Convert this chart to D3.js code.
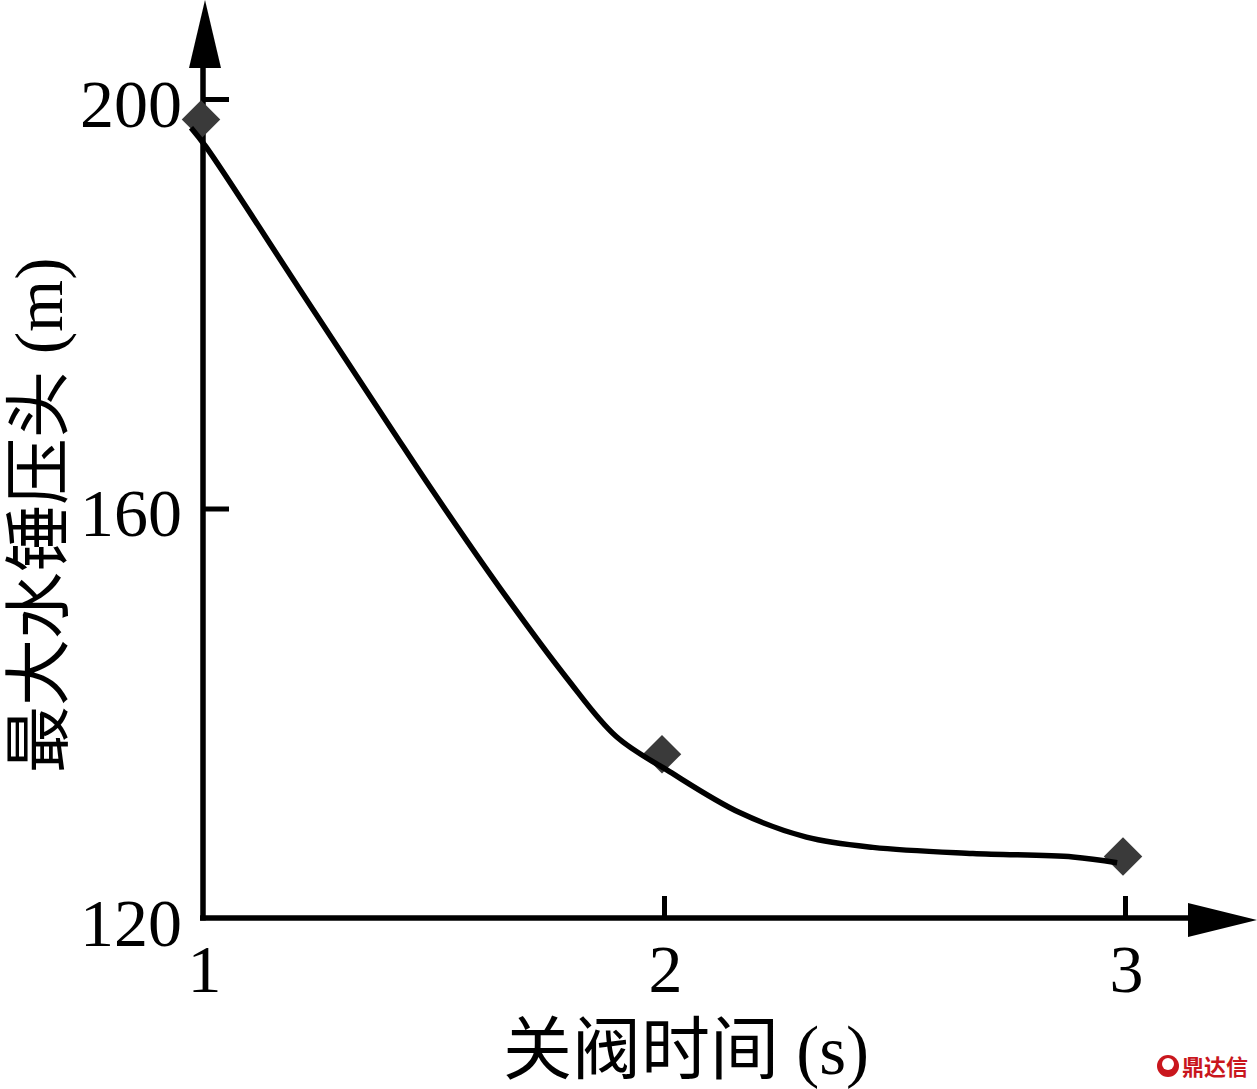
<!DOCTYPE html>
<html>
<head>
<meta charset="utf-8">
<script src="https://cdn.jsdelivr.net/npm/d3@7"></script>
<style>
  html, body { margin: 0; padding: 0; background: #fff; }
  svg { display: block; }
</style>
</head>
<body>
<script>
// ---- data ----
const closingTime = [1, 2, 3];                 // 关阀时间 (s)
const maxHead = [198, 136, 126];               // 最大水锤压头 (m)
// fitted curve
const curveX = [0.974, 1.007, 1.2085, 1.41, 1.497, 1.643, 1.788, 1.897, 2.012, 2.164, 2.309, 2.453, 2.67, 2.887, 2.983];
const curveY = [197.2, 195.3, 181.5, 167.7, 161.8, 152.3, 143.5, 137.7, 134.3, 130.3, 127.9, 126.9, 126.3, 125.96, 125.4];
const xTicks = [1, 2, 3];
const yTicks = [120, 160, 200];
const xTitle = "关阀时间 (s)";
const yTitle = "最大水锤压头 (m)";

const W = 1257, H = 1089;
const svg = d3.select("body").append("svg").attr("width", W).attr("height", H);

const x = d3.scaleLinear().domain([1, 3]).range([203, 1125]);
const y = d3.scaleLinear().domain([120, 200]).range([918, 99]);

const serif = "'Liberation Serif', 'Times New Roman', serif";
const cjk = "'Liberation Serif', 'Noto Sans CJK SC', serif";

// axes lines
svg.append("line").attr("x1", 203).attr("x2", 203).attr("y1", y(120) + 2.5).attr("y2", 66)
  .attr("stroke", "#000").attr("stroke-width", 5.5);
svg.append("line").attr("x1", 200).attr("x2", 1190).attr("y1", y(120)).attr("y2", y(120))
  .attr("stroke", "#000").attr("stroke-width", 5.5);
// arrows
svg.append("path").attr("d", "M189,68 L221,68 L205,0 Z").attr("fill", "#000");
svg.append("path").attr("d", "M1188,903 L1188,937 L1257,920 Z").attr("fill", "#000");

// y axis ticks/labels
const gy = svg.append("g").attr("transform", "translate(203,0)")
  .call(d3.axisLeft(y).tickValues(yTicks).tickFormat(d3.format("d"))
    .tickSizeInner(-26).tickSizeOuter(0).tickPadding(21));
gy.select(".domain").remove();
gy.selectAll(".tick line").attr("stroke", "#000").attr("stroke-width", 5)
  .filter(d => d === 120).remove();
gy.selectAll(".tick text").attr("font-family", serif).attr("font-size", 68).attr("fill", "#000")
  .attr("dy", "0.4em");

// x axis ticks/labels
const gx = svg.append("g").attr("transform", `translate(0,${y(120)})`)
  .call(d3.axisBottom(x).tickValues(xTicks).tickFormat(d3.format("d"))
    .tickSizeInner(-22).tickSizeOuter(0).tickPadding(26));
gx.select(".domain").remove();
gx.selectAll(".tick line").attr("stroke", "#000").attr("stroke-width", 5)
  .filter(d => d === 1).remove();
gx.selectAll(".tick text").attr("font-family", serif).attr("font-size", 68).attr("fill", "#000")
  .attr("dy", "0.71em").attr("dx", 1);

// markers (diamonds)
const pts = closingTime.map((t, i) => [t, maxHead[i]]);
svg.append("g").selectAll("path").data(pts).join("path")
  .attr("d", d3.symbol().type(d3.symbolSquare).size(740))
  .attr("transform", d => `translate(${x(d[0]) - 2},${y(d[1])}) rotate(45)`)
  .attr("fill", "#3a3a3a");

// fitted curve (drawn over markers)
const cpts = curveX.map((v, i) => [v, curveY[i]]);
svg.append("path").datum(cpts)
  .attr("d", d3.line().x(d => x(d[0])).y(d => y(d[1])).curve(d3.curveCatmullRom.alpha(0.5)))
  .attr("fill", "none").attr("stroke", "#000").attr("stroke-width", 5.5).attr("stroke-linecap", "butt");

// axis titles
svg.append("text").attr("x", 503).attr("y", 1074)
  .attr("font-family", cjk).attr("font-size", 69).attr("fill", "#000").text(xTitle);
svg.append("text").attr("transform", "translate(62,773) rotate(-90)")
  .attr("font-family", cjk).attr("font-size", 67).attr("fill", "#000").text(yTitle);

// watermark
const wm = svg.append("g");
wm.append("circle").attr("cx", 1168).attr("cy", 1066).attr("r", 11).attr("fill", "#c9161d");
wm.append("circle").attr("cx", 1168).attr("cy", 1064).attr("r", 6).attr("fill", "#fff");
wm.append("text").attr("x", 1182).attr("y", 1075).attr("font-family", "'Noto Sans CJK SC', sans-serif")
  .attr("font-weight", "bold").attr("font-size", 22).attr("fill", "#c9161d").text("鼎达信");
</script>
</body>
</html>
